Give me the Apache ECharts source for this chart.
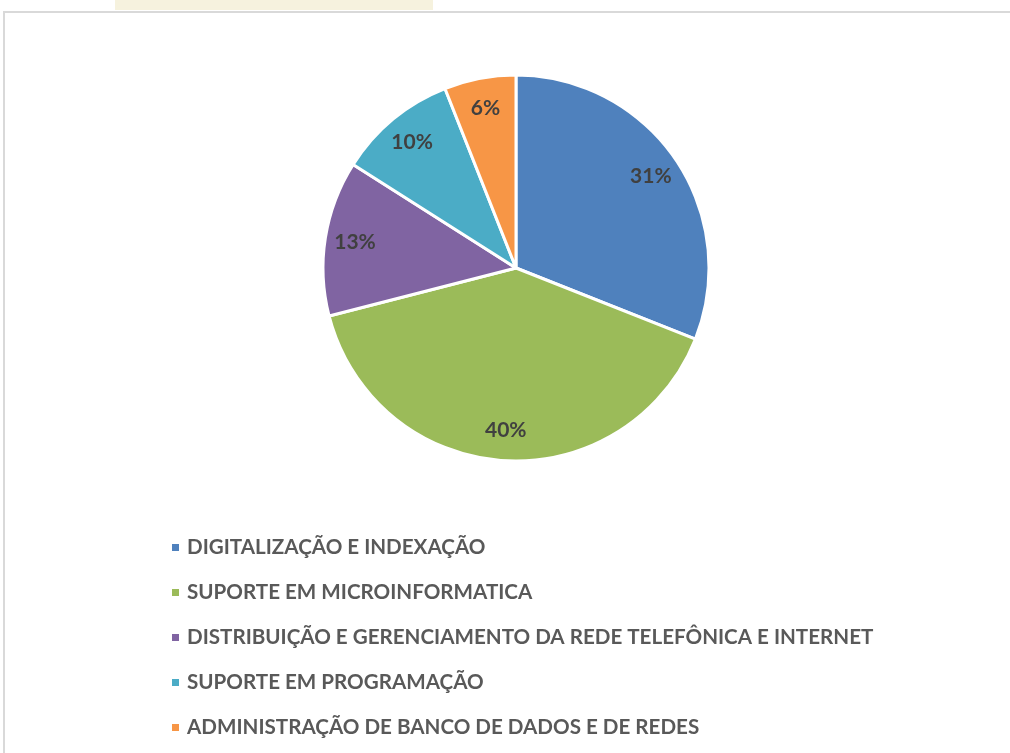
<!DOCTYPE html>
<html>
<head>
<meta charset="utf-8">
<script src="https://cdn.jsdelivr.net/npm/echarts@6/dist/echarts.min.js"></script>
<style>
  html, body { margin: 0; padding: 0; background: #fff; }
  #main { width: 1010px; height: 753px; }
</style>
</head>
<body>
<div id="main"></div>
<script>
// categorias e percentuais
const categorias = [
    'DIGITALIZAÇÃO E INDEXAÇÃO',
    'SUPORTE EM MICROINFORMATICA',
    'DISTRIBUIÇÃO E GERENCIAMENTO DA REDE TELEFÔNICA E INTERNET',
    'SUPORTE EM PROGRAMAÇÃO',
    'ADMINISTRAÇÃO DE BANCO DE DADOS E DE REDES'
];
const valores = [31, 40, 13, 10, 6];
const cores = ['#4F81BD', '#9BBB59', '#8064A2', '#4BACC6', '#F79646'];

const FONTE = 'Lato, "Open Sans", "Noto Sans", sans-serif';

var dados = categorias.map(function (nome, i) {
    return { name: nome, value: valores[i] };
});

var myChart = echarts.init(document.getElementById('main'));

var option = {
    backgroundColor: '#ffffff',
    animation: false,
    color: cores,
    graphic: [
        // faixa amarelada no topo (resto da página)
        { type: 'rect', shape: { x: 115, y: 0, width: 318, height: 10 }, style: { fill: '#f6f2de' } },
        // moldura cinza clara
        { type: 'rect', shape: { x: 4, y: 12, width: 1020, height: 760 },
          style: { fill: 'none', stroke: '#d9d9d9', lineWidth: 2 } }
    ],
    legend: {
        orient: 'vertical',
        left: 165,
        top: 532,
        icon: 'rect',
        itemWidth: 9,
        itemHeight: 9,
        itemGap: 24,
        data: categorias,
        textStyle: {
            fontFamily: FONTE,
            fontWeight: 'bold',
            fontSize: 20.6,
            color: '#595959',
            padding: [0, 0, 0, 2]
        }
    },
    series: [
        {
            type: 'pie',
            center: [516, 268],
            radius: 193,
            startAngle: 90,
            clockwise: true,
            itemStyle: { borderColor: '#ffffff', borderWidth: 3 },
            label: { show: false },
            labelLine: { show: false },
            emphasis: { disabled: true },
            data: dados
        },
        {
            // série transparente só para posicionar os rótulos mais perto da borda
            type: 'pie',
            center: [516, 268],
            radius: [127, 193],
            startAngle: 90,
            clockwise: true,
            silent: true,
            itemStyle: { color: 'rgba(0,0,0,0)' },
            label: {
                show: true,
                position: 'inside',
                formatter: '{c}%',
                fontFamily: FONTE,
                fontWeight: 'bold',
                fontSize: 21,
                color: '#404040'
            },
            labelLine: { show: false },
            emphasis: { disabled: true },
            data: dados
        }
    ]
};

myChart.setOption(option);
</script>
</body>
</html>
